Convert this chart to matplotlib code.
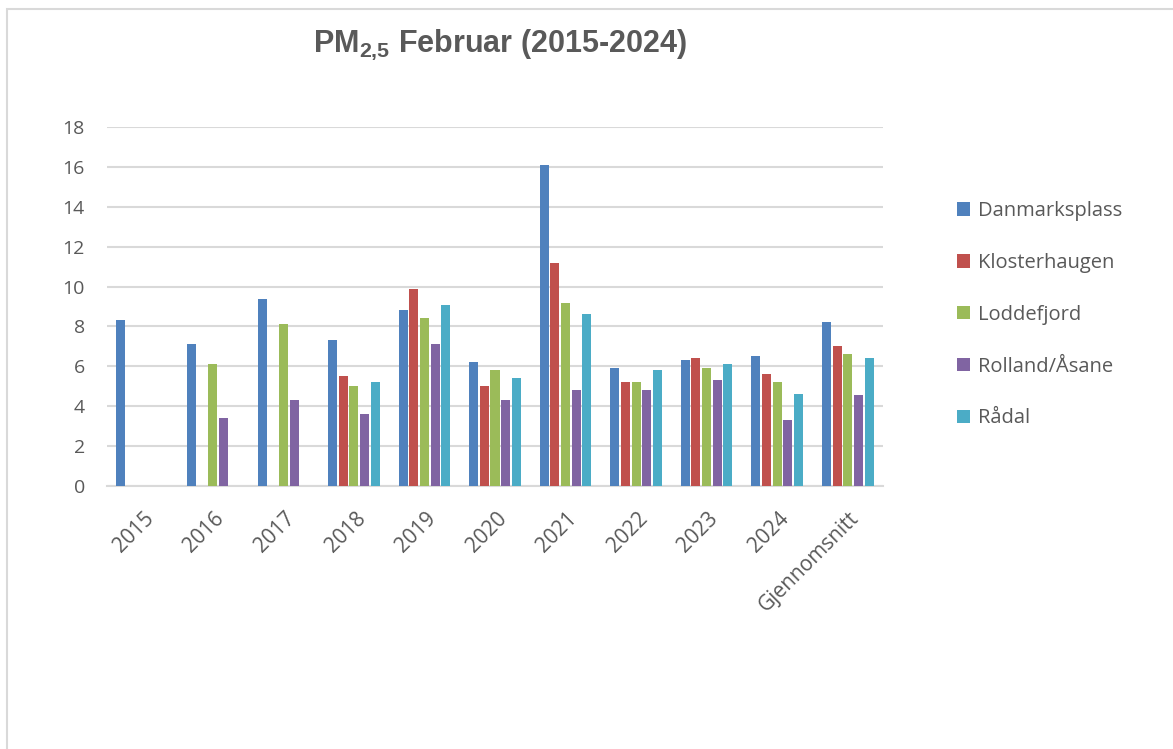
import numpy as np
import matplotlib
matplotlib.use("Agg")
import matplotlib.pyplot as plt
from matplotlib.patches import Rectangle
import matplotlib.transforms as mtransforms

categories = ["2015", "2016", "2017", "2018", "2019", "2020", "2021", "2022", "2023", "2024", "Gjennomsnitt"]
nan = np.nan
danmarksplass = [8.3, 7.1, 9.4, 7.3, 8.8, 6.2, 16.1, 5.9, 6.3, 6.5, 8.2]
klosterhaugen = [nan, nan, nan, 5.5, 9.9, 5.0, 11.2, 5.2, 6.4, 5.6, 7.0]
loddefjord = [nan, 6.1, 8.1, 5.0, 8.4, 5.8, 9.2, 5.2, 5.9, 5.2, 6.6]
rolland = [nan, 3.4, 4.3, 3.6, 7.1, 4.3, 4.8, 4.8, 5.3, 3.3, 4.55]
raadal = [nan, nan, nan, 5.2, 9.1, 5.4, 8.6, 5.8, 6.1, 4.6, 6.4]
series_names = ["Danmarksplass", "Klosterhaugen", "Loddefjord", "Rolland/Åsane", "Rådal"]
series = [danmarksplass, klosterhaugen, loddefjord, rolland, raadal]
colors = ["#4F81BD", "#C0504D", "#9BBB59", "#8064A2", "#4BACC6"]

plt.rcParams['font.family'] = ['Open Sans', 'DejaVu Sans']
plt.rcParams['mathtext.fontset'] = 'custom'
plt.rcParams['mathtext.rm'] = 'Liberation Sans'
plt.rcParams['mathtext.bf'] = 'Liberation Sans:bold'

W, H = 1173, 749
fig = plt.figure(figsize=(W / 100, H / 100), dpi=100)

# outer chart frame
fig.patches.append(Rectangle((7 / W, -0.05), 1.2, 1 - 9 / H + 0.05,
                             transform=fig.transFigure, fill=False,
                             edgecolor="#d9d9d9", linewidth=1.5))

ax = fig.add_axes([107 / W, 1 - 486 / H, (883 - 107) / W, (486 - 127) / H])
x = np.arange(len(categories))
bw = 0.128
step = 0.151
for j, (name, vals, c) in enumerate(zip(series_names, series, colors)):
    ax.bar(x + (j - 2) * step, vals, width=bw, color=c, label=name, zorder=3)

ax.set_xlim(-0.5, len(categories) - 0.5)
ax.set_ylim(0, 18)
ax.set_yticks(np.arange(0, 19, 2))
ax.grid(axis='y', color="#d9d9d9", linewidth=1.5, zorder=0)
for s in ["top", "right", "left"]:
    ax.spines[s].set_visible(False)
ax.spines["bottom"].set_color("#d9d9d9")
ax.spines["bottom"].set_linewidth(1.5)
ax.tick_params(axis='both', length=0, labelsize=14, colors="#595959")
ax.tick_params(axis='y', pad=16)
ax.tick_params(axis='x', labelsize=15)
ax.set_xticks(x)
offset = mtransforms.ScaledTranslation(1 / 100, -17 / 100, fig.dpi_scale_trans)
ax.set_xticklabels(categories, rotation=45, ha='right', va='top', rotation_mode='anchor')
for lab in ax.get_xticklabels():
    lab.set_transform(lab.get_transform() + offset)

fig.text(500 / W, 1 - 52 / H, r"PM$_{\mathbf{2{,}5}}$ Februar (2015-2024)",
         ha='center', va='baseline', fontsize=22, fontweight='bold',
         color="#595959", family=['Liberation Sans', 'DejaVu Sans'])

leg = fig.legend(loc='upper left', bbox_to_anchor=(939 / W, 1 - 183 / H),
                 frameon=False, fontsize=14.5, handlelength=0.65, handleheight=0.65,
                 handletextpad=0.4, labelspacing=1.58, labelcolor="#595959")

fig.savefig("out.png", dpi=100)
